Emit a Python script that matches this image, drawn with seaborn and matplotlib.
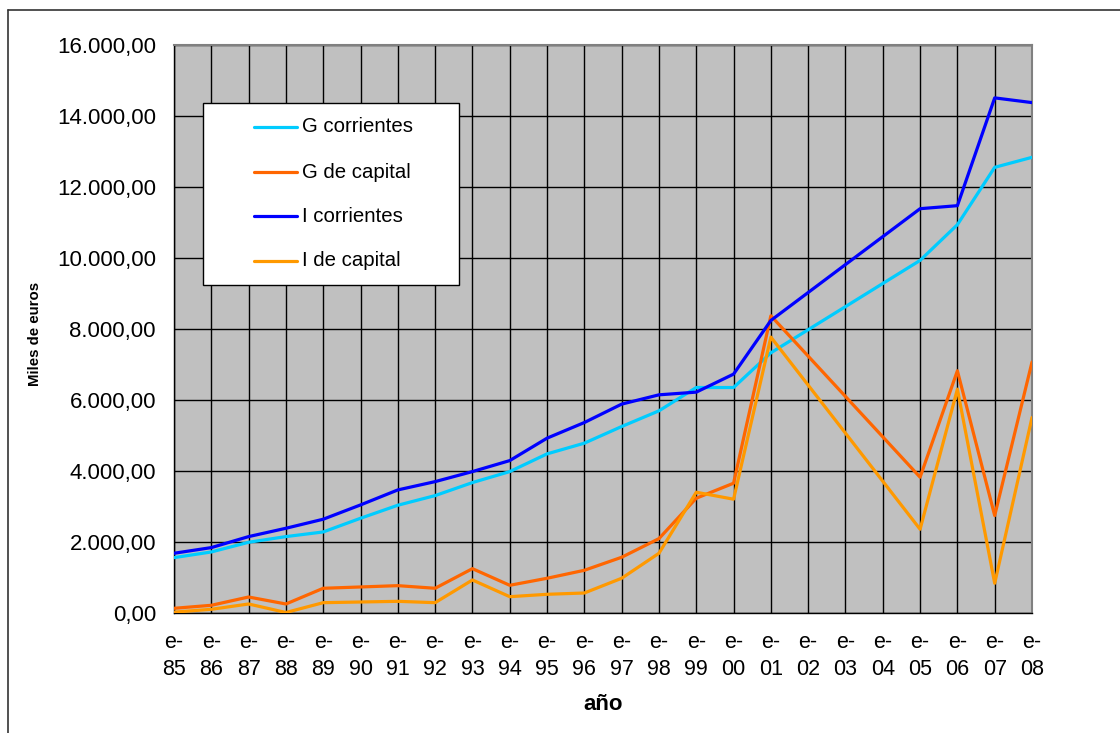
import numpy as np
import pandas as pd
import matplotlib
matplotlib.use("Agg")
import matplotlib.pyplot as plt
from matplotlib.lines import Line2D
from matplotlib.patches import Rectangle
from matplotlib.ticker import FuncFormatter, MultipleLocator
import seaborn as sns

# Categories (years, "e-85" ... "e-08")
years = ["85", "86", "87", "88", "89", "90", "91", "92", "93", "94", "95", "96",
         "97", "98", "99", "00", "01", "02", "03", "04", "05", "06", "07", "08"]
tick_labels = ["e-\n" + y for y in years]

series_names = ["G corrientes", "G de capital", "I corrientes", "I de capital"]

g_corrientes = [1547, 1707, 1980, 2140, 2271, 2657, 3024, 3296, 3663, 3973, 4472, 4774,
                5243, 5686, 6343, 6343, 7322, 7973, 8624, 9276, 9927, 10934, 12551, 12833]
g_capital = [118, 203, 437, 240, 683, 720, 757, 683, 1236, 767, 965, 1190,
             1557, 2083, 3222, 3645, 8366, 7228, 6090, 4952, 3814, 6814, 2733, 7060]
i_corrientes = [1670, 1830, 2140, 2375, 2630, 3033, 3456, 3690, 3973, 4283, 4915, 5356,
                5875, 6137, 6213, 6721, 8234, 9022, 9810, 10597, 11385, 11470, 14509, 14376]
i_capital = [10, 90, 240, 0, 277, 296, 315, 277, 917, 446, 513, 550,
             965, 1670, 3391, 3194, 7765, 6410, 5056, 3701, 2347, 6297, 824, 5497]

colors = ["#00CCFF", "#FF6600", "#0000FF", "#FF9900"]

df = pd.DataFrame({
    "pos": np.tile(np.arange(len(years)), 4),
    "valor": g_corrientes + g_capital + i_corrientes + i_capital,
    "serie": np.repeat(series_names, len(years)),
})

sns.set_style("white")
plt.rcParams["font.family"] = ["Liberation Sans", "DejaVu Sans"]
plt.rcParams["text.color"] = "black"

W, H = 1120, 733
fig = plt.figure(figsize=(W / 100, H / 100), dpi=100)
fig.patch.set_facecolor("white")

L, R, T, B = 174, 1032, 45, 612.5
ax = fig.add_axes([L / W, 1 - B / H, (R - L) / W, (B - T) / H])
ax.set_facecolor("#C0C0C0")

sns.lineplot(data=df, x="pos", y="valor", hue="serie", hue_order=series_names,
             palette=colors, linewidth=2.3, legend=False, ax=ax, zorder=3)

ax.set_xlim(0, len(years) - 1)
ax.set_ylim(0, 16000)
ax.set_xticks(np.arange(len(years)))
ax.set_xticklabels(tick_labels, linespacing=1.35)
ax.yaxis.set_major_locator(MultipleLocator(2000))


def fmt_es(v, _):
    s = f"{v:,.2f}"
    return s.replace(",", "X").replace(".", ",").replace("X", ".")


ax.yaxis.set_major_formatter(FuncFormatter(fmt_es))
ax.tick_params(axis="both", direction="out", length=6, width=1, color="black",
               labelcolor="black")
ax.tick_params(axis="y", labelsize=16, pad=7)
ax.tick_params(axis="x", labelsize=15.5, pad=8)
ax.set_xlabel("")
ax.set_ylabel("")

ax.grid(True, color="black", linewidth=1)
ax.set_axisbelow(True)
for side in ["left", "bottom"]:
    ax.spines[side].set_color("black")
    ax.spines[side].set_linewidth(1)
for side in ["top", "right"]:
    ax.spines[side].set_color("#808080")
    ax.spines[side].set_linewidth(1.5)

# Axis titles
fig.text(35 / W, 1 - 334 / H, "Miles de euros", rotation=90, ha="center", va="center",
         fontsize=10.8, fontweight="bold")
fig.text(603 / W, 1 - 705 / H, "año", ha="center", va="center",
         fontsize=16, fontweight="bold")

# Legend box
bx0, by0, bx1, by1 = 203, 103, 459, 285
fig.add_artist(Rectangle((bx0 / W, 1 - by1 / H), (bx1 - bx0) / W, (by1 - by0) / H,
                         transform=fig.transFigure, facecolor="white",
                         edgecolor="black", linewidth=1, zorder=10))
entry_y = [127, 172, 216, 261]
for name, col, yy in zip(series_names, colors, entry_y):
    fig.add_artist(Line2D([254 / W, 297 / W], [1 - yy / H, 1 - yy / H],
                          transform=fig.transFigure, color=col, linewidth=2.3, zorder=11))
    fig.text(302 / W, 1 - yy / H, name, ha="left", va="center", fontsize=14.7, zorder=12)

# Outer chart frame (top and left edges)
fig.add_artist(Line2D([8 / W, 1.0], [1 - 10 / H, 1 - 10 / H], transform=fig.transFigure,
                      color="#333333", linewidth=1.2))
fig.add_artist(Line2D([8 / W, 8 / W], [0, 1 - 10 / H], transform=fig.transFigure,
                      color="#333333", linewidth=1.2))

fig.savefig("out.png", dpi=100)
